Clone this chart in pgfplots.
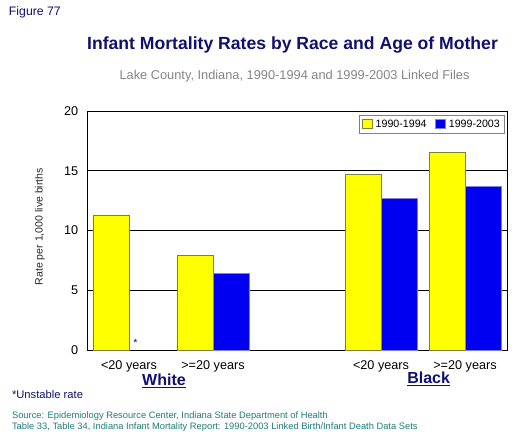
\documentclass[border=0pt]{standalone}
\usepackage{pgfplots}
\pgfplotsset{compat=1.18}
\usepackage{fontspec}
\setmainfont{Liberation Sans}
\definecolor{navyt}{HTML}{101070}
\definecolor{srcteal}{HTML}{1E7B7B}
\definecolor{subgray}{HTML}{858585}
\definecolor{ybar}{HTML}{FFFF00}
\definecolor{yedge}{HTML}{7F7F40}
\definecolor{bbar}{HTML}{0000F0}
\definecolor{bedge}{HTML}{8080E0}
\begin{document}
\begin{tikzpicture}
\path[use as bounding box] (0,0) rectangle (390pt,330pt);
\begin{axis}[
  at={(65.25pt,67.5pt)}, anchor=south west,
  scale only axis, width=315pt, height=179.25pt,
  ybar, bar width=0.4286,
  xmin=-0.5, xmax=4.5, ymin=0, ymax=20,
  xtick={0,1,3,4},
  xticklabels={{<20 years},{>=20 years},{<20 years},{>=20 years}},
  ytick={0,5,10,15,20},
  ymajorgrids, grid style={black, line width=0.6pt},
  axis line style={black, line width=0.6pt},
  tick style={draw=none},
  tick label style={font=\fontsize{9.5}{11}\selectfont},
  /pgf/number format/assume math mode=true,
  xticklabel style={yshift=0pt},
  yticklabel style={xshift=-3pt},
  legend style={at={(0.995,0.985)}, anchor=north east, draw=gray, line width=0.6pt,
    font=\fontsize{8}{9}\selectfont, legend columns=2, inner sep=1.5pt,
    /tikz/every even column/.append style={column sep=4pt}},
  legend image code/.code={\draw[#1] (0pt,-3pt) rectangle (8pt,4pt);},
]
\addplot[fill=ybar, draw=yedge, line width=0.6pt, bar shift=-0.2143] coordinates {(0,11.3) (1,7.9) (3,14.7) (4,16.5)};
\addplot[fill=bbar, draw=bedge, line width=0.6pt, bar shift=0.2143] coordinates {(1,6.4) (3,12.7) (4,13.7)};
\legend{1990-1994,1999-2003}
\end{axis}
% asterisk
\node[navyt, font=\fontsize{8}{9}\selectfont] at (101.5pt,73pt) {*};
% y label
\node[rotate=90, font=\fontsize{7.9}{9}\selectfont, black!85] at (30pt,160pt) {Rate per 1,000 live births};
% figure label
\node[anchor=west, font=\fontsize{9.2}{11}\selectfont, navyt] at (3.2pt,321pt) {Figure 77};
% title
\node[font=\fontsize{13.2}{15}\selectfont\bfseries, navyt] at (219.4pt,296.25pt) {Infant Mortality Rates by Race and Age of Mother};
\node[font=\fontsize{9.6}{11}\selectfont, subgray] at (220.9pt,273pt) {Lake County, Indiana, 1990-1994 and 1999-2003 Linked Files};
% group labels
\node[font=\fontsize{12}{14}\selectfont\bfseries, navyt] at (123pt,44.5pt) {\underline{White}};
\node[font=\fontsize{12}{14}\selectfont\bfseries, navyt] at (321.5pt,45.5pt) {\underline{Black}};
% footnotes
\node[anchor=west, font=\fontsize{8.4}{10}\selectfont, navyt] at (5.5pt,34.5pt) {*Unstable rate};
\node[anchor=west, font=\fontsize{7}{8}\selectfont, srcteal] at (5.5pt,18.2pt) {Source: Epidemiology Resource Center, Indiana State Department of Health};
\node[anchor=west, font=\fontsize{7}{8}\selectfont, srcteal] at (5.5pt,10pt) {Table 33, Table 34, Indiana Infant Mortality Report: 1990-2003 Linked Birth/Infant Death Data Sets};
\end{tikzpicture}
\end{document}
